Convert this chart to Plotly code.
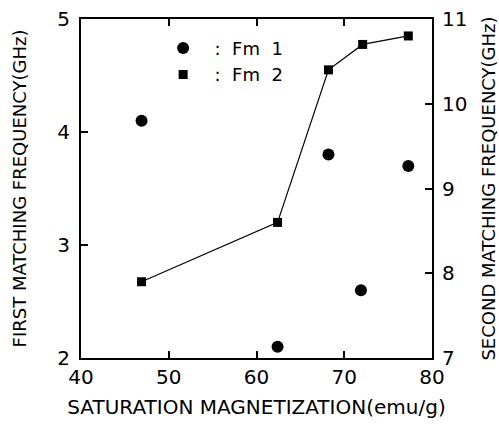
import plotly.graph_objects as go

ms = [46.9, 62.4, 68.2, 71.9, 77.3]
fm1 = [4.1, 2.1, 3.8, 2.6, 3.7]
ms2 = [46.9, 62.4, 68.2, 72.1, 77.3]
fm2 = [7.9, 8.6, 10.4, 10.7, 10.8]

font = "DejaVu Sans"
nb = "\u00a0"
fig = go.Figure()
fig.add_trace(go.Scatter(x=ms, y=fm1, mode="markers", name=f"{nb}{nb}:{nb}{nb}Fm{nb}{nb}1",
                         marker=dict(symbol="circle", size=12, color="black")))
fig.add_trace(go.Scatter(x=ms2, y=fm2, mode="lines", showlegend=False, yaxis="y2",
                         line=dict(color="black", width=1.2)))
fig.add_trace(go.Scatter(x=ms2, y=fm2, mode="markers", name=f"{nb}{nb}:{nb}{nb}Fm{nb}{nb}2", yaxis="y2",
                         marker=dict(symbol="square", size=9, color="black")))

axcommon = dict(showgrid=False, zeroline=False, showline=True, linecolor="black", linewidth=2,
                ticks="inside", ticklen=7, tickcolor="black", tickwidth=1.5, automargin=False,
                tickfont=dict(family=font, size=20, color="black"))
tf = dict(family=font, size=18, color="black")
fig.update_layout(
    width=499, height=430,
    margin=dict(l=81, r=67, t=19, b=72),
    paper_bgcolor="white", plot_bgcolor="white",
    xaxis=dict(range=[40, 80], tickvals=[40, 50, 60, 70, 80], mirror="ticks",
               title=dict(text="SATURATION MAGNETIZATION(emu/g)", font=dict(family=font, size=20, color="black"), standoff=12),
               **axcommon),
    yaxis=dict(range=[2, 5], tickvals=[2, 3, 4, 5], ticklabelstandoff=5,
               title=dict(text="FIRST MATCHING FREQUENCY(GHz)", font=tf, standoff=26),
               **axcommon),
    yaxis2=dict(range=[7, 11], tickvals=[7, 8, 9, 10, 11], overlaying="y", side="right",
                ticklabelstandoff=4,
                title=dict(text="SECOND MATCHING FREQUENCY(GHz)", font=tf, standoff=26),
                **axcommon),
    legend=dict(x=0.234, y=0.968, xanchor="left", yanchor="top", bgcolor="rgba(0,0,0,0)",
                font=dict(family=font, size=18, color="black"), itemwidth=30, tracegroupgap=0),
    showlegend=True,
)
fig.write_html("out.html", config={"displayModeBar": False},
               post_script="document.body.style.margin='0';document.body.style.overflow='hidden';")
